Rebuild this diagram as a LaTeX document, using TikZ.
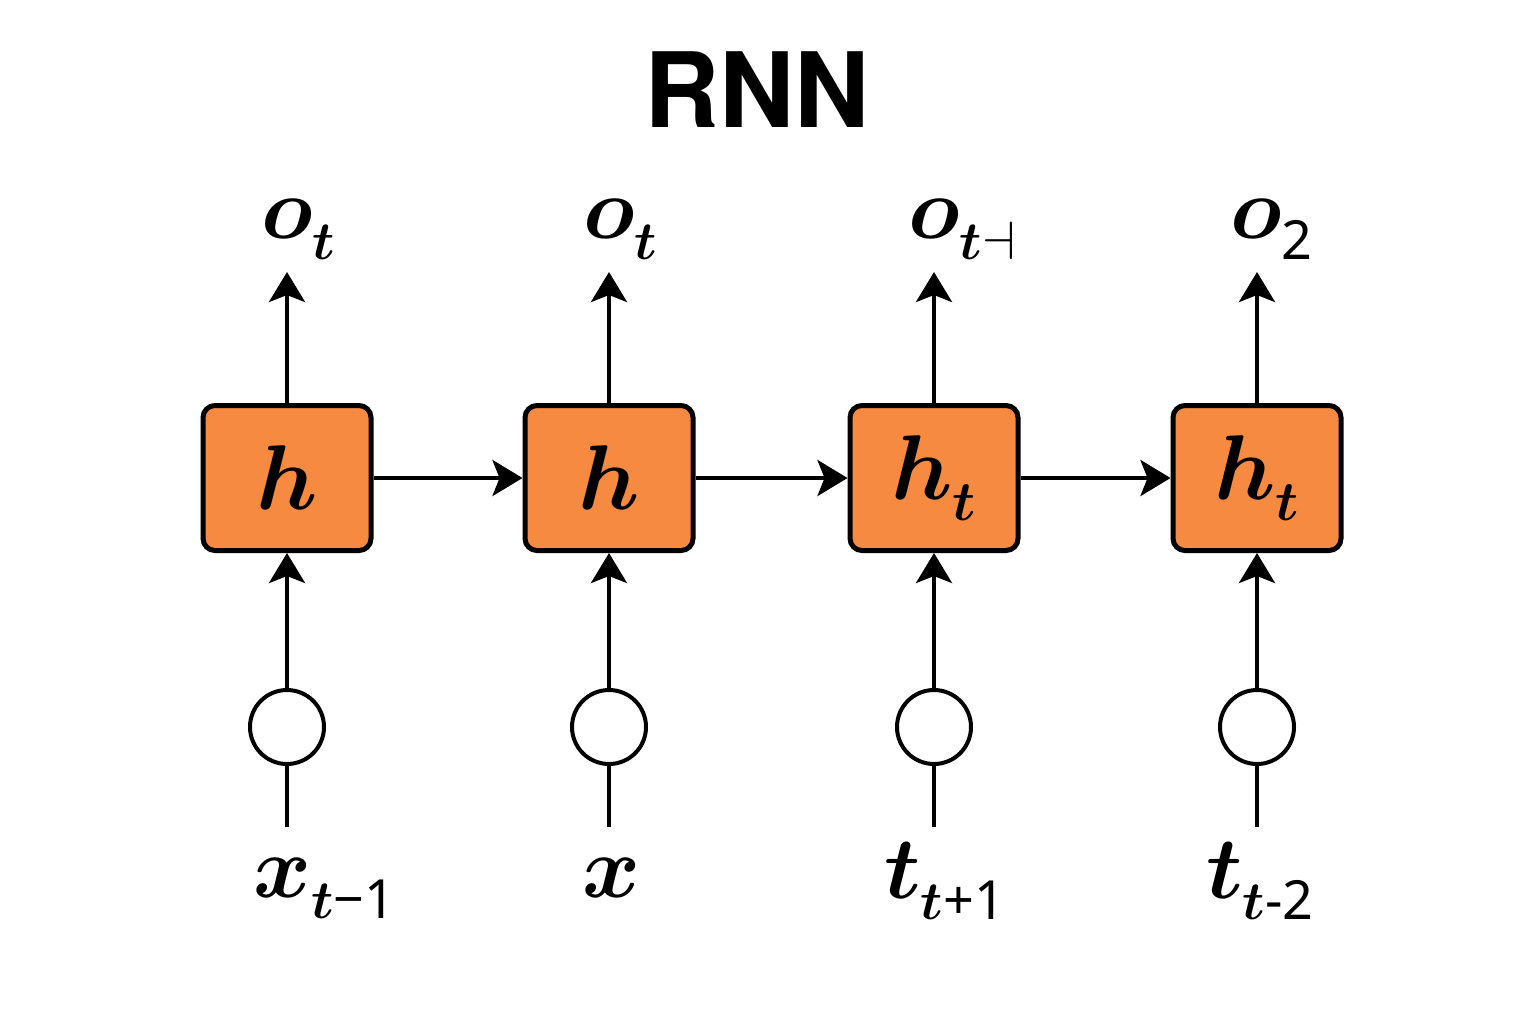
\RequirePackage{fix-cm}
\documentclass[tikz,border=0pt]{standalone}
\usepackage{amsmath}
\usepackage{fontspec}
\newfontfamily\titlefont{TeX Gyre Heros}
\newfontfamily\subsf{Noto Sans}
\usetikzlibrary{arrows.meta}
\definecolor{cellorange}{RGB}{245,138,64}
\DeclareMathSizes{44}{44}{27}{20}
\DeclareMathSizes{46}{46}{28}{20}
\newcommand{\lsub}[1]{_{\raisebox{-4pt}{$\scriptstyle #1$}}}
\newcommand{\sd}[1]{\text{\subsf #1}}
\begin{document}
\begin{tikzpicture}[x=0.5pt,y=-0.5pt,
  cell/.style={draw=black,line width=2.5pt,fill=cellorange,rounded corners=6pt,
    minimum width=84pt,minimum height=72.5pt,inner sep=0pt,
    font=\fontsize{46}{50}\selectfont},
  inpt/.style={draw=black,line width=2pt,fill=white,circle,minimum size=37pt,inner sep=0pt},
  lab/.style={anchor=base west,inner sep=0pt,font=\fontsize{44}{50}\selectfont},
  arr/.style={line width=2pt,-{Stealth[length=15pt,width=18pt,inset=3.5pt]}},
  plain/.style={line width=2pt}
]
\useasboundingbox[fill=white] (0,0) rectangle (1536,1024);

\node[font=\titlefont\bfseries\fontsize{52}{60}\selectfont,inner sep=0pt] (title) at (757,90) {RNN};

% cells
\node[cell] (b1) at (287,478) {$\boldsymbol{h}$};
\node[cell] (b2) at (609,478) {$\boldsymbol{h}$};
\node[cell] (b3) at (934,478) {$\boldsymbol{h}\lsub{\boldsymbol{t}}$};
\node[cell] (b4) at (1257,478) {$\boldsymbol{h}\lsub{\boldsymbol{t}}$};

% input circles
\node[inpt] (c1) at (287,727) {};
\node[inpt] (c2) at (609,727) {};
\node[inpt] (c3) at (934,727) {};
\node[inpt] (c4) at (1257,727) {};

% line ends
\coordinate (o1) at (287,272);
\coordinate (o2) at (609,272);
\coordinate (o3) at (934,272);
\coordinate (o4) at (1257,272);
\coordinate (x1) at (287,827);
\coordinate (x2) at (609,827);
\coordinate (x3) at (934,827);
\coordinate (x4) at (1257,827);

% output labels
\node[lab] (ol1) at (261,238) {$\boldsymbol{o}\lsub{\boldsymbol{t}}$};
\node[lab] (ol2) at (583,238) {$\boldsymbol{o}\lsub{\boldsymbol{t}}$};
\node[lab] (ol3) at (908,238) {$\boldsymbol{o}\lsub{\boldsymbol{t}\dashv}$};
\node[lab] (ol4) at (1230,238) {$\boldsymbol{o}\lsub{\sd{2}}$};

% input labels
\node[lab] (il1) at (253,897) {$\boldsymbol{x}\lsub{\boldsymbol{t}\sd{−1}}$};
\node[lab] (il2) at (582,897) {$\boldsymbol{x}$};
\node[lab] (il3) at (884,898) {$\boldsymbol{t}\lsub{\boldsymbol{t}\sd{+1}}$};
\node[lab] (il4) at (1206,898) {$\boldsymbol{t}\lsub{\boldsymbol{t}\sd{-2}}$};

% connectors
\foreach \i in {1,2,3,4}{
  \draw[arr] (b\i) -- (o\i);
  \draw[arr] (c\i) -- (b\i);
  \draw[plain] (x\i) -- (c\i);
}
\draw[arr] (b1) -- (b2);
\draw[arr] (b2) -- (b3);
\draw[arr] (b3) -- (b4);
\end{tikzpicture}
\end{document}
